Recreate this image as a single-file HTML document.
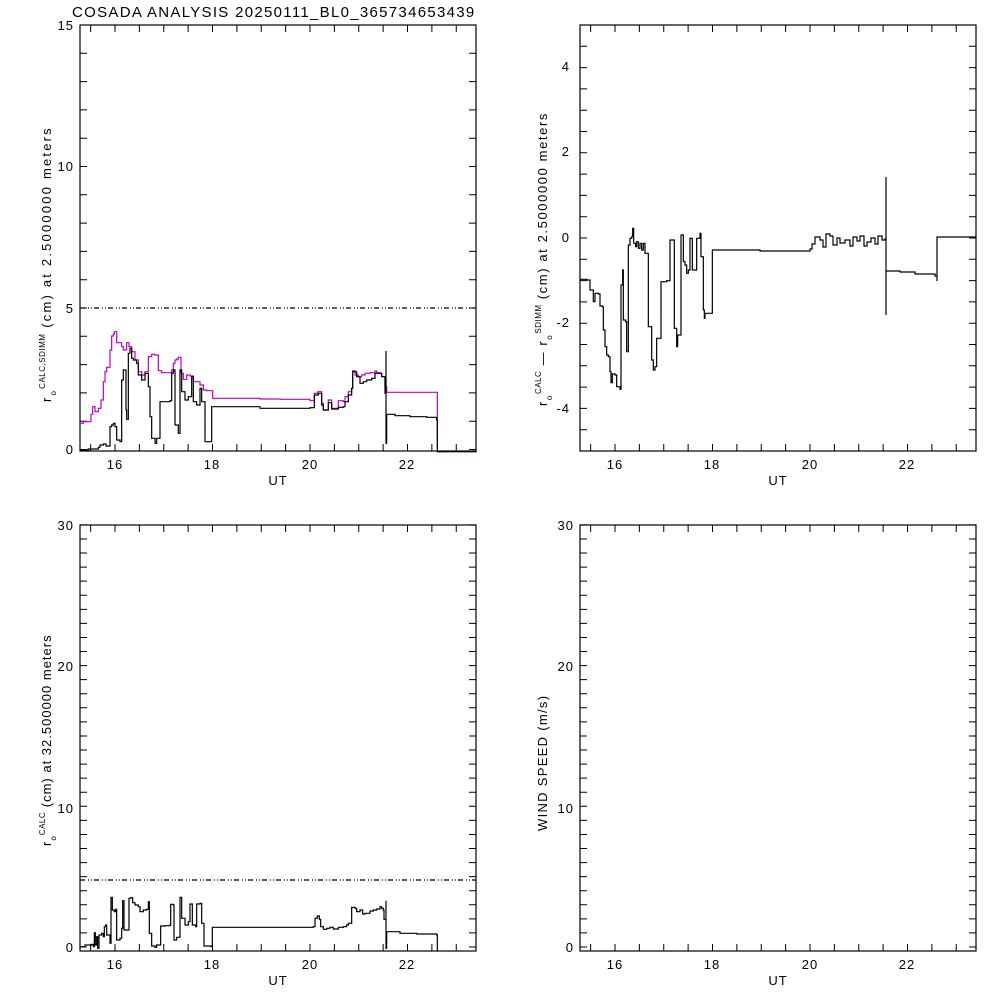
<!DOCTYPE html>
<html><head><meta charset="utf-8"><style>
html,body{margin:0;padding:0;background:#fff;width:1000px;height:1000px;overflow:hidden}
svg{display:block}
text{font-family:"Liberation Sans",sans-serif;font-size:13px;fill:#000}
</style></head><body>
<svg id="s" width="1000" height="1000" xmlns="http://www.w3.org/2000/svg">
<rect width="1000" height="1000" fill="#fff"/>
<text x="72" y="17" style="font-size:15px;letter-spacing:1.3px">COSADA ANALYSIS 20250111_BL0_365734653439</text>
<g fill="none" stroke="#000" stroke-width="1.2">
<rect x="80" y="25" width="396" height="426"/>
<rect x="580" y="25" width="396" height="426"/>
<rect x="80" y="525" width="396" height="426"/>
<rect x="580" y="525" width="396" height="426"/>
</g>
<g id="ticks" stroke="#000" stroke-width="1"></g>
<g id="lines" fill="none" stroke-width="1.2"></g>
<g text-anchor="middle" style="letter-spacing:1px">
<text x="115" y="469">16</text><text x="212" y="469">18</text><text x="310" y="469">20</text><text x="407" y="469">22</text><text x="278" y="485">UT</text>
<text x="615" y="469">16</text><text x="712" y="469">18</text><text x="810" y="469">20</text><text x="907" y="469">22</text><text x="778" y="485">UT</text>
<text x="115" y="969">16</text><text x="212" y="969">18</text><text x="310" y="969">20</text><text x="407" y="969">22</text><text x="278" y="985">UT</text>
<text x="615" y="969">16</text><text x="712" y="969">18</text><text x="810" y="969">20</text><text x="907" y="969">22</text><text x="778" y="985">UT</text>
</g>
<g text-anchor="end" style="letter-spacing:1px">
<text x="74" y="454">0</text><text x="74" y="313">5</text><text x="74" y="171">10</text><text x="74" y="30">15</text>
<text x="570" y="71">4</text><text x="570" y="156">2</text><text x="570" y="242">0</text><text x="570" y="327">-2</text><text x="570" y="413">-4</text>
<text x="74" y="952">0</text><text x="74" y="813">10</text><text x="74" y="671">20</text><text x="74" y="530">30</text>
<text x="574" y="952">0</text><text x="574" y="813">10</text><text x="574" y="671">20</text><text x="574" y="530">30</text>
</g>
<text transform="translate(51,402) rotate(-90)" style="letter-spacing:2.2px">r<tspan dy="5" style="font-size:8px">o</tspan><tspan dy="-11" style="font-size:8px;letter-spacing:0.5px">CALC,SDIMM</tspan><tspan dy="6"> (cm)  at  2.5000000 meters</tspan></text>
<text transform="translate(547,406) rotate(-90)" style="letter-spacing:1.6px">r<tspan dy="5" style="font-size:8px">o</tspan><tspan dy="-11" style="font-size:8px;letter-spacing:0.5px">CALC</tspan><tspan dy="6">  —  r</tspan><tspan dy="5" style="font-size:8px">o</tspan><tspan dy="-11" style="font-size:8px;letter-spacing:0.5px">SDIMM</tspan><tspan dy="6"> (cm) at 2.5000000 meters</tspan></text>
<text transform="translate(51,846) rotate(-90)" style="letter-spacing:1px">r<tspan dy="5" style="font-size:8px">o</tspan><tspan dy="-11" style="font-size:8px;letter-spacing:0.5px">CALC</tspan><tspan dy="6"> (cm) at 32.500000 meters</tspan></text>
<text transform="translate(547,831) rotate(-90)" style="letter-spacing:1.3px">WIND SPEED (m/s)</text>
</svg>
<script>
var NS="http://www.w3.org/2000/svg";
function el(p,t,a){var e=document.createElementNS(NS,t);for(var k in a)e.setAttribute(k,a[k]);p.appendChild(e);return e;}
var T=document.getElementById('ticks'),d="";
[[80,25],[580,25],[80,525],[580,525]].forEach(function(o){
 var x0=o[0],yt=o[1],yb=o[1]+426;
 for(var h=15.5;h<=23.01;h+=0.5){var x=x0+35+(h-16)*48.75;d+="M"+x+" "+yb+"v-7M"+x+" "+yt+"v7";}
});
function yt(x0,f,a,b,s){for(var v=a;v<=b+1e-6;v+=s){var y=f(v);d+="M"+x0+" "+y+"h7M"+(x0+396)+" "+y+"h-7";}}
yt(80,function(v){return 449.5-28.3*v},0,15,1);
yt(580,function(v){return 238-42.6*v},-5,5,0.5);
yt(80,function(v){return 947-14.07*v},0,30,1);
yt(580,function(v){return 947-14.07*v},0,30,1);
el(T,'path',{d:d});
var L=document.getElementById('lines');
function step(pts,ox,oy,sx,sy,col){var s="";for(var i=0;i<pts.length;i+=2){var x=ox+pts[i]*sx,y=oy+pts[i+1]*sy;if(i==0)s="M"+x+" "+y;else s+="H"+x+"V"+y;}el(L,'path',{d:s,stroke:col});}
var mag=[0,310,10,305,33,283,38,260,45,275,55,265,63,240,70,185,75,155,80,142,90,90,95,48,100,42,103,35,110,68,125,80,130,90,140,68,147,80,155,95,165,120,175,155,185,165,195,155,205,110,215,103,225,105,235,152,245,158,275,150,280,130,285,120,290,117,295,112,303,160,310,178,320,165,330,168,340,185,360,195,370,210,380,212,398,235,540,237,600,238];
step(mag,80,320,1/3,1/3,'#c000c0');
var mag2=[0,178,90,182,103,160,113,155,125,190,130,210,145,180,155,205,175,182,190,185,195,170,205,155,215,145,218,92,225,105,235,110,245,105,255,100,270,98,285,93,290,98,300,100,305,110,315,140,320,157,472,157,472,335,590,335];
step(mag2,280,340,1/3,1/3,'#c000c0');
var blk=[0,390,25,387,55,382,60,375,70,372,78,378,90,320,95,315,100,310,105,320,110,360,120,365,125,180,130,150,138,270,140,298,145,100,150,85,155,115,160,120,170,130,175,165,185,180,195,160,205,200,210,290,215,355,225,370,230,355,240,245,270,242,275,160,280,150,285,315,295,340,300,150,305,215,315,240,325,230,335,170,340,245,350,255,360,205,365,245,375,365,395,260,540,265,600,265];
step(blk,80,320,1/3,1/3,'#000');
var blk2=[0,205,90,203,103,165,115,160,125,195,130,210,145,188,155,207,175,202,190,200,195,185,205,165,215,145,218,95,230,110,240,130,250,125,260,120,275,115,285,100,305,110,315,160,318,160,318,33,318,310,320,223,345,227,390,230,440,232,470,240,472,335,590,335];
step(blk2,280,340,1/3,1/3,'#000');
el(L,'path',{d:"M80 308H476",stroke:'#000','stroke-dasharray':'5,3,1,2,1,2'});
el(L,'path',{d:"M80 880H476",stroke:'#000','stroke-dasharray':'5,3,1,2,1,2'});
var p2=[15,178,35,180,45,210,55,245,60,220,70,222,75,258,82,260,85,330,90,380,95,405,100,410,105,455,108,488,112,462,120,465,125,500,135,508,138,195,143,150,145,300,152,305,155,395,160,75,165,55,170,50,173,25,176,70,182,80,185,65,190,85,195,70,200,90,205,70,210,100,220,320,230,420,235,450,240,440,245,355,255,355,258,185,275,182,285,60,295,60,298,325,305,380,308,345,315,345,318,45,325,125,330,135,335,160,340,150,345,55,350,55,352,150,360,150,365,55,375,40,378,110,385,270,388,295,390,280,410,280,412,90,411,90];
step(p2,575,220,1/3,1/3,'#000');
var p2b=[712,250,760,251,810,249,812,244,815,237,820,240,823,247,826,234,830,236,833,245,837,238,840,243,845,240,850,246,853,237,857,241,860,236,864,246,867,242,871,238,875,244,878,236,882,240,885,239,886,177,886,315,886,271,900,272,915,274,935,276,937,281,937,237,976,237];
step(p2b,0,0,1,1,'#000');
var p3=[0,350,15,345,35,343,40,350,43,308,46,345,50,320,53,355,57,315,65,310,70,320,73,290,77,285,80,315,90,340,93,202,97,240,103,245,107,238,110,330,120,325,125,295,128,212,132,300,145,300,147,205,152,203,158,218,165,225,175,230,180,245,190,240,200,238,205,215,208,310,215,348,225,352,230,345,240,345,242,288,255,287,270,285,272,223,280,225,282,330,290,322,297,322,300,202,305,265,315,285,325,275,330,222,335,222,337,285,347,290,350,222,360,220,365,280,372,348,393,350,397,292,690,292,700,290,705,265,712,258,718,268,722,290,730,298,740,295,750,292,760,297,775,292,790,290,800,285,805,280,815,232,825,235,830,245,840,240,848,252,855,250,870,243,880,240,890,237,900,230,905,235,910,240,912,268,918,262,918,212,918,355,920,305,960,310,1010,312,1070,315,1072,365];
step(p3,80,830,1/3,1/3,'#000');
</script>
</body></html>
